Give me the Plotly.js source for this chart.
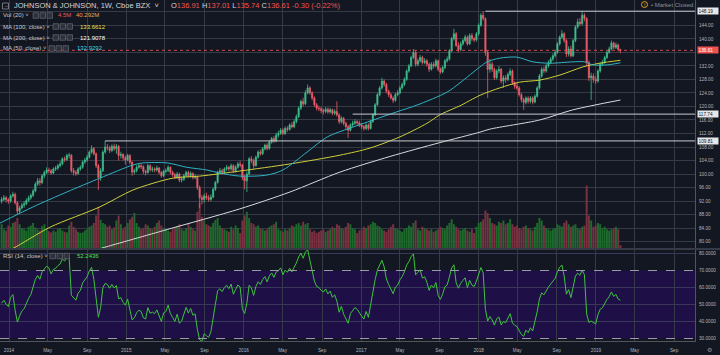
<!DOCTYPE html>
<html><head><meta charset="utf-8">
<script src="https://cdn.plot.ly/plotly-3.0.1.min.js"></script>
<style>html,body{margin:0;padding:0;background:#131722;}#chart{width:720px;height:355px;}</style>
</head><body><div id="chart"></div>
<script>
// ---------- DATA ----------
const firstWeek = '2013-12-09';
const warmupCloses = [91.5,93.0,93.5,93.4,91.0,89.0,88.0,87.5,86.5,87.5,88.5,87.0,86.8,87.5,90.5,92.5,93.0,94.0,94.5,95.0,93.2];
const opens = [
92.0,92.5,93.0,92.4,92.0,93.5,94.0,91.5,89.0,90.0,
90.8,91.2,92.2,93.0,93.7,95.0,97.0,98.0,97.5,99.5,
100.5,101.2,101.0,100.3,101.5,101.8,102.5,103.0,104.5,104.3,
105.5,105.6,101.0,100.5,100.2,101.5,102.0,103.6,104.2,105.0,
106.5,107.5,106.0,102.5,99.0,101.0,106.5,108.0,107.8,107.0,
108.2,107.5,108.2,105.5,105.8,104.8,104.2,105.5,103.5,100.6,
101.0,102.0,102.5,102.2,100.8,100.5,102.5,101.3,101.5,101.2,
101.8,100.5,99.5,100.8,101.0,102.0,100.5,99.8,99.0,100.0,
98.2,98.5,99.5,100.5,99.5,100.2,99.0,99.2,96.0,93.0,
92.5,93.5,93.0,92.5,93.2,95.5,97.5,100.5,101.0,100.5,
101.5,102.0,101.5,102.5,101.0,102.0,103.0,102.7,99.0,98.0,
100.0,104.5,104.0,102.5,105.0,106.5,106.0,107.5,108.5,107.6,
109.5,110.5,109.8,111.5,112.0,113.0,112.0,113.5,113.2,114.5,
114.0,115.5,117.0,119.5,121.5,120.8,124.0,125.5,124.0,122.5,
120.5,119.5,119.3,118.8,118.5,119.2,118.4,119.0,118.0,118.5,
117.5,115.5,116.5,115.0,114.0,113.0,114.5,115.0,115.5,115.2,
114.5,114.0,113.5,114.5,113.5,115.5,117.5,120.5,123.5,125.5,
127.5,126.5,124.5,123.5,122.5,121.8,123.5,124.0,125.5,126.5,
128.0,130.5,132.0,134.5,136.0,132.5,133.5,134.5,133.0,133.5,
132.5,131.0,132.5,132.0,133.5,131.0,130.2,131.5,133.5,134.0,
136.5,140.0,141.5,138.0,136.8,138.5,139.5,140.5,138.5,141.0,
140.0,139.7,141.5,144.0,147.0,146.0,136.0,131.0,132.5,131.0,
128.5,130.5,131.0,127.5,128.5,128.0,129.5,130.5,127.0,126.0,
125.5,123.5,122.0,121.2,122.5,121.5,122.5,121.3,123.0,125.5,
129.0,131.0,130.5,132.0,133.0,134.0,135.0,136.0,138.5,140.5,
141.5,139.5,135.5,137.0,135.0,139.5,143.5,145.0,144.5,147.0,
146.0,133.0,128.5,129.0,128.0,127.5,130.5,132.5,133.0,134.5,
136.0,137.0,138.8,137.5,138.2,136.91];
const highs = [
93.2,93.8,93.5,92.9,94.0,94.8,94.5,92.0,90.6,91.5,
92.0,92.8,93.6,94.3,95.6,97.6,98.9,98.8,100.0,101.0,
102.0,101.9,101.5,102.0,102.4,103.0,103.8,105.0,105.2,106.0,
106.3,105.9,101.8,101.2,102.0,102.6,104.0,104.8,105.7,107.0,
108.5,108.0,106.4,103.0,101.8,107.0,109.81,108.9,108.4,108.8,
109.0,108.9,108.6,106.6,106.2,105.5,106.0,105.9,103.8,101.6,
102.6,103.2,103.0,102.6,101.3,103.0,102.9,102.2,102.0,102.5,
102.1,100.9,101.3,101.7,102.6,102.3,101.0,100.3,100.6,100.4,
99.2,100.1,101.0,101.0,100.8,100.5,99.9,99.5,96.6,93.8,
94.2,94.5,93.8,94.0,96.0,98.0,101.0,101.8,101.6,102.0,
102.7,102.5,103.1,102.9,102.6,103.6,103.9,103.0,99.8,100.8,
105.0,105.3,104.6,105.5,107.0,107.2,108.0,109.0,109.1,110.0,
111.0,111.2,112.2,112.8,113.6,113.6,114.1,114.2,115.0,115.4,
116.2,117.6,120.0,122.0,122.6,124.8,126.5,126.0,124.5,123.0,
121.0,120.2,119.9,119.4,119.8,119.7,119.6,119.4,119.2,121.5,
118.0,117.1,116.9,115.5,114.6,115.0,115.8,116.2,116.0,115.8,
115.1,114.5,115.0,115.0,116.0,118.0,121.0,124.0,126.0,128.5,
128.0,127.0,125.0,124.0,123.0,124.0,124.8,126.0,127.1,128.6,
131.0,132.6,135.0,137.0,136.4,134.2,135.2,135.0,134.3,134.0,
133.0,133.1,133.2,134.1,133.9,131.6,132.0,134.0,134.8,137.0,
140.6,143.0,142.0,139.0,139.2,140.1,141.2,141.0,141.6,141.7,
140.6,142.0,144.6,147.6,148.19,146.4,136.6,134.0,133.2,131.5,
131.0,132.0,131.4,129.2,129.3,130.1,131.3,131.0,127.5,126.8,
126.0,124.0,122.6,123.0,123.0,123.1,123.0,123.6,126.0,129.6,
131.6,131.8,132.6,133.7,134.6,135.7,136.8,139.0,141.0,142.6,
142.0,140.0,137.8,138.0,140.0,144.0,146.0,146.2,148.0,147.6,
146.4,133.6,130.0,129.8,128.9,131.0,133.1,133.8,135.0,136.6,
137.7,139.5,139.2,138.9,138.6,137.01];
const lows = [
91.3,92.0,91.6,91.2,91.5,93.0,91.0,88.0,88.3,89.5,
90.0,90.8,91.7,92.4,93.2,94.6,96.5,96.6,97.0,98.8,
100.0,100.2,99.8,100.0,100.9,101.2,102.0,102.6,103.6,103.9,
104.6,100.4,99.6,99.5,99.8,101.0,101.6,103.0,103.6,104.6,
106.0,105.5,101.8,95.3,98.0,100.6,106.0,107.0,106.2,106.5,
106.8,106.0,104.0,104.6,104.0,102.8,103.8,102.9,99.5,99.9,
100.5,101.6,101.5,100.0,99.6,100.1,100.7,100.6,100.5,100.7,
99.9,98.9,99.1,100.2,100.6,99.9,99.2,98.5,98.6,97.6,
97.5,98.0,99.0,99.0,99.0,98.4,98.5,95.3,90.0,91.0,
91.5,92.3,91.8,92.0,92.8,95.0,97.2,100.0,99.8,100.0,
101.0,100.8,101.0,100.3,100.4,101.6,102.0,98.2,95.5,94.7,
99.6,103.2,101.6,102.2,104.6,105.4,105.6,107.0,107.0,107.2,
109.0,109.2,109.4,110.8,111.6,111.5,111.6,112.5,112.9,113.5,
113.6,115.0,116.6,119.0,120.0,120.4,123.6,123.5,121.8,119.9,
118.8,118.6,118.0,117.6,118.0,117.8,117.9,117.4,117.5,117.0,
114.8,115.0,114.4,113.3,110.7,112.6,114.0,114.6,114.6,113.9,
113.3,112.8,113.0,112.9,113.2,115.2,117.2,120.2,123.0,125.0,
125.8,123.9,122.8,122.0,121.0,121.4,123.0,123.6,125.0,126.0,
127.6,130.0,131.6,134.0,131.8,131.9,133.0,132.4,132.5,131.8,
130.2,130.6,131.3,131.6,130.4,129.6,129.8,131.0,133.0,133.6,
136.0,139.5,137.6,136.0,136.4,138.0,139.0,138.0,138.2,139.4,
139.0,139.2,141.0,143.6,145.4,135.0,122.5,130.0,130.2,127.8,
128.0,129.8,126.8,125.5,127.0,127.5,129.0,126.4,125.2,124.8,
122.9,121.2,119.0,120.6,120.8,120.9,120.6,120.9,122.6,125.0,
128.5,129.8,130.0,131.5,132.5,133.5,134.5,135.6,138.0,140.0,
138.8,134.6,134.8,134.5,134.6,139.0,143.0,143.8,144.0,145.2,
132.0,127.5,121.9,127.0,126.6,127.0,130.0,132.0,132.6,134.0,
135.6,136.6,136.9,137.0,136.3,135.74];
const closes = [
92.5,93.0,92.4,92.0,93.5,94.0,91.5,89.0,90.0,90.8,
91.2,92.2,93.0,93.7,95.0,97.0,98.0,97.5,99.5,100.5,
101.2,101.0,100.3,101.5,101.8,102.5,103.0,104.5,104.3,105.5,
105.6,101.0,100.5,100.2,101.5,102.0,103.6,104.2,105.0,106.5,
107.5,106.0,102.5,99.0,101.0,106.5,108.0,107.8,107.0,108.2,
107.5,108.2,105.5,105.8,104.8,104.2,105.5,103.5,100.6,101.0,
102.0,102.5,102.2,100.8,100.5,102.5,101.3,101.5,101.2,101.8,
100.5,99.5,100.8,101.0,102.0,100.5,99.8,99.0,100.0,98.2,
98.5,99.5,100.5,99.5,100.2,99.0,99.2,96.0,93.0,92.5,
93.5,93.0,92.5,93.2,95.5,97.5,100.5,101.0,100.5,101.5,
102.0,101.5,102.5,101.0,102.0,103.0,102.7,99.0,98.0,100.0,
104.5,104.0,102.5,105.0,106.5,106.0,107.5,108.5,107.6,109.5,
110.5,109.8,111.5,112.0,113.0,112.0,113.5,113.2,114.5,114.0,
115.5,117.0,119.5,121.5,120.8,124.0,125.5,124.0,122.5,120.5,
119.5,119.3,118.8,118.5,119.2,118.4,119.0,118.0,118.5,117.5,
115.5,116.5,115.0,114.0,113.0,114.5,115.0,115.5,115.2,114.5,
114.0,113.5,114.5,113.5,115.5,117.5,120.5,123.5,125.5,127.5,
126.5,124.5,123.5,122.5,121.8,123.5,124.0,125.5,126.5,128.0,
130.5,132.0,134.5,136.0,132.5,133.5,134.5,133.0,133.5,132.5,
131.0,132.5,132.0,133.5,131.0,130.2,131.5,133.5,134.0,136.5,
140.0,141.5,138.0,136.8,138.5,139.5,140.5,138.5,141.0,140.0,
139.7,141.5,144.0,147.0,146.0,136.0,131.0,132.5,131.0,128.5,
130.5,131.0,127.5,128.5,128.0,129.5,130.5,127.0,126.0,125.5,
123.5,122.0,121.2,122.5,121.5,122.5,121.3,123.0,125.5,129.0,
131.0,130.5,132.0,133.0,134.0,135.0,136.0,138.5,140.5,141.5,
139.5,135.5,137.0,135.0,139.5,143.5,145.0,144.5,147.0,146.0,
133.0,128.5,129.0,128.0,127.5,130.5,132.5,133.0,134.5,136.0,
137.0,138.8,137.5,138.2,136.91,136.61];
const volumesM = [
38,30,28,36,34,40,42,48,38,32,
30,28,34,36,40,33,30,28,35,38,
30,27,25,28,26,30,32,28,26,25,
36,42,34,30,26,24,25,28,30,34,
36,40,52,66,45,40,38,34,36,30,
33,44,52,38,30,34,40,46,50,56,
40,34,30,32,38,36,32,30,34,40,
44,36,32,30,28,26,30,33,35,38,
30,28,32,40,34,30,28,58,72,50,
44,38,36,34,40,45,48,36,32,30,
28,26,34,30,36,32,24,44,52,58,
48,40,38,34,36,32,30,28,30,34,
36,38,42,30,28,26,30,28,32,36,
34,38,40,36,42,38,40,30,26,28,
24,26,28,30,26,28,30,34,32,38,
36,32,30,34,40,38,32,30,24,28,
30,34,32,36,38,42,40,36,34,30,
28,26,30,34,38,32,30,28,26,30,
32,36,34,40,44,30,28,34,32,30,
28,30,26,28,30,34,32,30,36,40,
46,38,34,30,28,30,32,28,26,30,
24,34,40,42,46,60,56,48,40,38,
36,42,40,44,38,40,46,38,34,36,
32,30,34,36,32,30,28,34,40,48,
44,36,32,30,28,30,32,38,36,34,
40,44,38,34,36,38,32,30,34,36,
100,52,44,34,36,40,38,32,34,30,
28,30,32,34,30,4.5];

const ma50Dates = ['2013-12-04','2014-03-17','2014-06-30','2014-10-11','2015-01-22','2015-02-22','2015-05-08','2015-07-09','2015-09-09','2015-10-19','2015-12-20','2016-03-13','2016-05-02','2016-07-16','2016-09-17','2016-11-27','2017-02-07','2017-04-21','2017-06-23','2017-09-24','2017-11-04','2018-01-05','2018-01-27','2018-03-08','2018-04-30','2018-06-19','2018-08-11','2018-10-21','2018-11-27','2018-12-22','2019-02-04','2019-03-18'];
const ma50Values = [85.5,90.3,94.7,98.8,102.7,103.3,103.3,102.0,101.2,100.3,99.4,99.7,101.2,106.5,111.0,113.6,116.0,118.4,120.4,124.2,127.0,131.7,133.2,134.3,134.6,133.2,132.8,133.2,133.2,132.3,132.3,132.93];
const ma100Dates = ['2013-12-04','2014-01-13','2014-05-09','2014-10-11','2015-01-22','2015-05-26','2015-08-18','2015-12-20','2016-05-24','2016-10-27','2017-01-28','2017-05-01','2017-07-24','2017-09-02','2017-10-13','2017-11-04','2018-01-05','2018-03-08','2018-05-09','2018-07-10','2018-09-11','2018-11-21','2019-01-13','2019-03-18'];
const ma100Values = [76.5,78.0,84.3,90.3,95.3,98.8,99.4,100.9,103.0,105.6,107.7,111.0,115.0,117.5,119.3,120.2,123.3,125.5,127.2,127.8,129.3,131.7,132.8,133.66];
const ma200Dates = ['2014-08-01','2014-10-17','2015-05-08','2015-12-20','2016-05-24','2016-10-27','2017-03-31','2017-09-02','2018-01-05','2018-02-05','2018-07-10','2018-10-21','2019-03-18'];
const ma200Values = [76.0,78.1,83.6,89.7,94.7,100.6,105.2,109.3,112.4,113.3,116.0,119.0,121.91];

const levelStart = ['2018-01-22','2016-12-05','2014-10-27'];
const levelValues = [148.19,117.74,109.81];
const lastClose = 136.61;

const timeTickDates = ['2014-01-01','2014-05-01','2014-09-01','2015-01-01','2015-05-01','2015-09-01','2016-01-01','2016-05-01','2016-09-01','2017-01-01','2017-05-01','2017-09-01','2018-01-01','2018-05-01','2018-09-01','2019-01-01','2019-05-01','2019-09-01'];
const timeTickLabels = ['2014','May','Sep','2015','May','Sep','2016','May','Sep','2017','May','Sep','2018','May','Sep','2019','May','Sep'];
const priceTicks = [80,84,88,92,96,100,104,108,112,116,120,124,128,132,136,140,144,148];
const priceTickLabels = ['80.00','84.00','88.00','92.00','96.00','100.00','104.00','108.00','112.00','116.00','120.00','124.00','128.00','132.00','','140.00','144.00',''];
const rsiTicks = [30,40,50,60,70,80];
const rsiTickLabels = ['30.0000','40.0000','50.0000','60.0000','70.0000','80.0000'];

// ---------- BUILD ----------
const dates = closes.map((_, i) => new Date(Date.UTC(2013, 11, 9) + i * 7 * 86400000).toISOString().slice(0, 10));
const allC = warmupCloses.concat(closes);
let ag = 0, al = 0; const rsi = new Array(closes.length).fill(null);
for (let k = 1; k < allC.length; k++) {
  const d = allC[k] - allC[k - 1], g = Math.max(d, 0), l = Math.max(-d, 0);
  if (k <= 14) { ag += g / 14; al += l / 14; } else { ag = (ag * 13 + g) / 14; al = (al * 13 + l) / 14; }
  const idx = k - warmupCloses.length;
  if (k >= 14 && idx >= 0) rsi[idx] = al === 0 ? 100 : 100 - 100 / (1 + ag / al);
}
const UP = '#3fbf8c', DN = '#ef5d6a';
const volColors = closes.map((c, i) => c >= opens[i] ? '#1e6a2c' : '#7a3141');

const W = 695, H = 341;
const PX = x => x / W, PY = y => 1 - y / H;
const GRID = '#363a47';
const X0 = '2013-12-04', X1 = '2019-11-05';

const traces = [
  {type: 'bar', x: dates, y: volumesM, marker: {color: volColors, line: {width: 0}}, xaxis: 'x', yaxis: 'y', hoverinfo: 'skip'},
  {type: 'candlestick', x: dates, open: opens, high: highs, low: lows, close: closes, xaxis: 'x', yaxis: 'y3',
   increasing: {line: {color: UP, width: 0.8}, fillcolor: UP}, decreasing: {line: {color: DN, width: 0.8}, fillcolor: DN}, whiskerwidth: 0, hoverinfo: 'skip'},
  {type: 'scatter', mode: 'lines', x: ma200Dates, y: ma200Values, xaxis: 'x', yaxis: 'y3', line: {color: '#d9d9dc', width: 1, shape: 'spline', smoothing: 0.8}, hoverinfo: 'skip'},
  {type: 'scatter', mode: 'lines', x: ma100Dates, y: ma100Values, xaxis: 'x', yaxis: 'y3', line: {color: '#cfcf3c', width: 1, shape: 'spline', smoothing: 0.8}, hoverinfo: 'skip'},
  {type: 'scatter', mode: 'lines', x: ma50Dates, y: ma50Values, xaxis: 'x', yaxis: 'y3', line: {color: '#2fb3c4', width: 1, shape: 'spline', smoothing: 0.8}, hoverinfo: 'skip'},
  {type: 'scatter', mode: 'lines', x: dates, y: rsi, xaxis: 'x', yaxis: 'y2', line: {color: '#3cc43c', width: 1}, hoverinfo: 'skip'}
];

const shapes = [
  {type: 'rect', xref: 'paper', yref: 'y2', x0: 0, x1: 1, y0: 30, y1: 70, fillcolor: '#1e1046', line: {width: 0}, layer: 'below'},
  ...[40, 50, 60, 80].map(v => ({type: 'line', xref: 'paper', yref: 'y2', x0: 0, x1: 1, y0: v, y1: v, line: {color: '#3b3758', width: 1}, layer: 'below'})),
  ...[30, 70].map(v => ({type: 'line', xref: 'paper', yref: 'y2', x0: 0, x1: 1, y0: v, y1: v, line: {color: '#9a9aa6', width: 1, dash: 'dash'}, layer: 'above'})),
  {type: 'line', xref: 'paper', yref: 'paper', x0: 0, x1: 720 / W, y0: PY(249), y1: PY(249), line: {color: '#5a5e6a', width: 1.2}},
  ...levelValues.map((v, k) => ({type: 'line', xref: 'x', yref: 'y3', x0: levelStart[k], x1: X1, y0: v, y1: v, line: {color: '#c8cad0', width: 1}, layer: 'above'})),
  {type: 'line', xref: 'x', yref: 'y3', x0: X0, x1: X1, y0: lastClose, y1: lastClose, line: {color: 'rgba(239,83,80,0.85)', width: 1, dash: 'dot'}, layer: 'above'}
];
const iconRows = [[33, 15.5], [53, 26.5], [53, 37.5], [49, 48.5], [50, 256]];
iconRows.forEach(([x, y]) => { for (let j = 0; j < 3; j++) shapes.push({type: 'rect', xref: 'paper', yref: 'paper', x0: PX(x + j * 7), x1: PX(x + j * 7 + 5.5), y0: PY(y - 2.8), y1: PY(y + 2.8), fillcolor: '#2e313b', line: {color: '#70737d', width: 0.6}}); });
shapes.push({type: 'rect', xref: 'paper', yref: 'paper', x0: PX(2.5), x1: PX(8.5), y0: PY(3), y1: PY(9), line: {color: '#9598a1', width: 0.7}});
shapes.push({type: 'circle', xref: 'paper', yref: 'paper', x0: PX(641.5), x1: PX(647.5), y0: PY(1.5), y1: PY(7.5), line: {color: '#f5a623', width: 0.9}});

const F = 'Liberation Sans, Arial, sans-serif';
const ann = (x, y, text, size, color, extra) => Object.assign({xref: 'paper', yref: 'paper', x: PX(x), y: PY(y), xanchor: 'left', yanchor: 'middle', text, showarrow: false, borderpad: 0, font: {family: F, size, color}}, extra || {});
const R = '#ef5350';
const annotations = [
  ann(3.6, 6, '–', 6, '#9598a1'),
  ann(13, 6, 'JOHNSON &amp; JOHNSON, 1W, Cboe BZX  ˅', 7.5, '#d1d4dc'),
  ann(170, 6, `O<span style="color:${R}">136.91</span> H<span style="color:${R}">137.01</span> L<span style="color:${R}">135.74</span> C<span style="color:${R}">136.61</span> <span style="color:${R}">-0.30 (-0.22%)</span>`, 7.5, '#d1d4dc'),
  ann(2, 15.5, 'Vol (20) ˅', 6, '#c5c8d0'),
  ann(57, 15.5, '4.5M', 6, R),
  ann(75, 15.5, '40.292M', 6, '#f0a04b'),
  ann(2, 26.5, 'MA (100, close) ˅', 6, '#c5c8d0'),
  ann(79, 26.5, '133.6612', 6, '#e1e14a'),
  ann(2, 37.5, 'MA (200, close) ˅', 6, '#c5c8d0'),
  ann(79, 37.5, '121.9078', 6, '#ffffff'),
  ann(2, 48.5, 'MA (50, close) ˅', 6, '#c5c8d0'),
  ann(76, 48.5, '132.9292', 6, '#3ed3e6'),
  ann(2, 256, 'RSI (14, close) ˅', 6, '#c5c8d0'),
  ann(76, 256, '52.2436', 6, '#4ee04e'),
  ann(643.4, 4.6, '!', 5, '#f5a623'),
  ann(650, 4.6, '• Market Closed', 6, '#8d909a'),
  ann(706, 350, '⚙', 6, '#8d909a'),
  ...levelValues.map(v => ({xref: 'paper', yref: 'y3', x: PX(696.5), y: v, xanchor: 'left', yanchor: 'middle', text: v.toFixed(2), showarrow: false, bgcolor: '#e6e7ea', borderpad: 0.6, width: 19, align: 'left', font: {family: F, size: 4.7, color: '#131722'}})),
  {xref: 'paper', yref: 'y3', x: PX(696.5), y: lastClose, xanchor: 'left', yanchor: 'middle', text: lastClose.toFixed(2), showarrow: false, bgcolor: '#ef5350', borderpad: 0.6, width: 19, align: 'left', font: {family: F, size: 4.7, color: '#ffffff'}}
];

const axisFont = {family: F, size: 4.7, color: '#b2b5be'};
const layout = {
  width: 720, height: 355, margin: {l: 0, r: 25, t: 0, b: 14},
  paper_bgcolor: '#131722', plot_bgcolor: '#131722', showlegend: false, bargap: 0.12,
  font: {family: F, color: '#b2b5be'},
  xaxis: {type: 'date', range: [X0, X1], anchor: 'y2', tickvals: timeTickDates, ticktext: timeTickLabels, tickangle: 0,
          showgrid: true, gridcolor: GRID, gridwidth: 1, ticks: '', tickfont: axisFont, ticklabelstandoff: 4,
          showline: true, linecolor: '#50545f', zeroline: false, rangeslider: {visible: false}, fixedrange: true},
  yaxis: {domain: [1 - 248 / H, 1], range: [0, 397], visible: false, showgrid: false, fixedrange: true},
  yaxis3: {overlaying: 'y', side: 'right', anchor: 'x', range: [78.13, 151.5], tickvals: priceTicks, ticktext: priceTickLabels,
           showgrid: true, gridcolor: GRID, gridwidth: 1, ticks: '', tickfont: axisFont, ticklabelstandoff: 2,
           showline: true, linecolor: '#50545f', zeroline: false, fixedrange: true},
  yaxis2: {domain: [0, 1 - 250 / H], anchor: 'x', side: 'right', range: [28.53, 82.06], tickvals: rsiTicks, ticktext: rsiTickLabels,
           showgrid: false, ticks: '', tickfont: axisFont, ticklabelstandoff: 2, showline: true, linecolor: '#50545f', zeroline: false, fixedrange: true},
  shapes, annotations
};
Plotly.newPlot('chart', traces, layout, {staticPlot: true, displayModeBar: false});
</script></body></html>
